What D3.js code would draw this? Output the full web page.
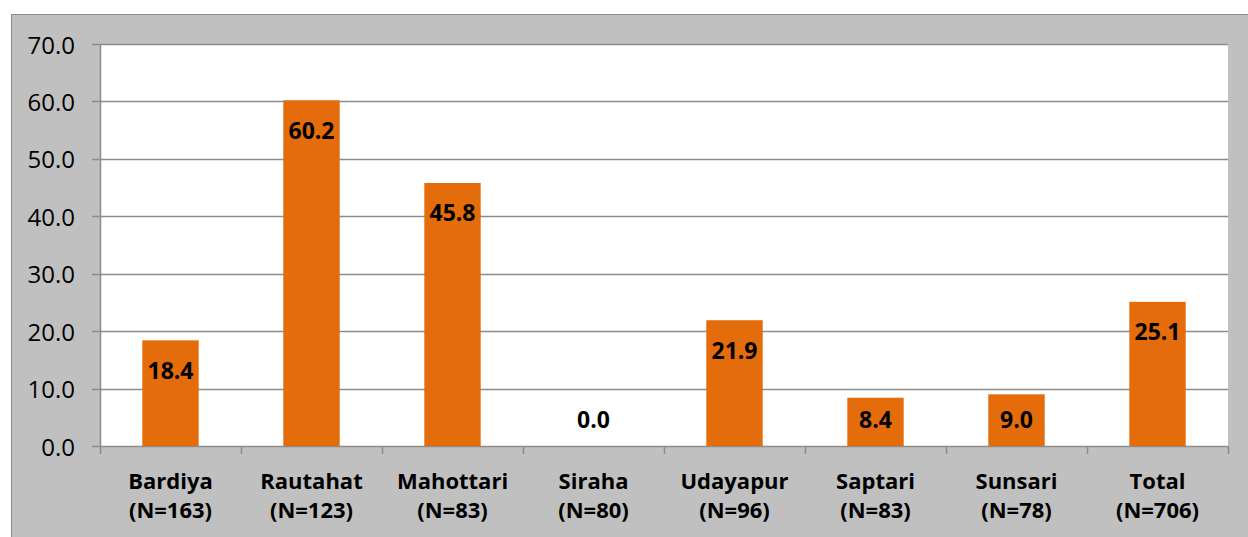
<!DOCTYPE html>
<html>
<head>
<meta charset="utf-8">
<script src="https://cdn.jsdelivr.net/npm/d3@7"></script>
<style>
  html, body { margin: 0; padding: 0; background: #fff; }
  svg text { font-family: "Open Sans", Lato, sans-serif; }
</style>
</head>
<body>
<div id="chart"></div>
<script>
// districts and their sample sizes
var districts = ["Bardiya", "Rautahat", "Mahottari", "Siraha", "Udayapur", "Saptari", "Sunsari", "Total"];
var sampleN = ["(N=163)", "(N=123)", "(N=83)", "(N=80)", "(N=96)", "(N=83)", "(N=78)", "(N=706)"];
var values = [18.4, 60.2, 45.8, 0.0, 21.9, 8.4, 9.0, 25.1];
var yTicks = [0, 10, 20, 30, 40, 50, 60, 70];

var W = 1248, H = 537;
var plot = {left: 100, top: 44, right: 1228, bottom: 446};

var svg = d3.select("#chart").append("svg")
    .attr("width", W)
    .attr("height", H);

// gray chart frame (cut off at right and bottom)
svg.append("rect")
    .attr("x", 11.5).attr("y", 14.5)
    .attr("width", W).attr("height", H)
    .style("fill", "#c0c0c0")
    .style("stroke", "#8c8c8c")
    .style("stroke-width", 1);

svg.append("rect")
    .attr("x", plot.left).attr("y", plot.top)
    .attr("width", plot.right - plot.left)
    .attr("height", plot.bottom - plot.top)
    .style("fill", "#ffffff");

var x = d3.scaleBand()
    .domain(districts)
    .range([plot.left, plot.right])
    .paddingInner(0.6)
    .paddingOuter(0.3);

var y = d3.scaleLinear()
    .domain([0, 70])
    .range([plot.bottom, plot.top]);

// gridlines
svg.append("g")
    .selectAll("line")
    .data(yTicks)
    .enter()
    .append("line")
        .attr("x1", plot.left - 8)
        .attr("x2", plot.right)
        .attr("y1", d => Math.round(y(d)) + 0.5)
        .attr("y2", d => Math.round(y(d)) + 0.5)
        .style("stroke", "#8c8c8c")
        .style("stroke-width", 1.5);

// bars
svg.append("g")
    .selectAll("rect")
    .data(values)
    .enter()
    .append("rect")
        .attr("x", (d, i) => x(districts[i]))
        .attr("y", d => y(d))
        .attr("width", x.bandwidth())
        .attr("height", d => y(0) - y(d))
        .style("fill", "#e46c0a");

// y axis line
svg.append("line")
    .attr("x1", plot.left + 0.5).attr("x2", plot.left + 0.5)
    .attr("y1", plot.top).attr("y2", plot.bottom)
    .style("stroke", "#8c8c8c")
    .style("stroke-width", 1.5);

// x axis ticks at category boundaries
var step = (plot.right - plot.left) / districts.length;
svg.append("g")
    .selectAll("line")
    .data(d3.range(districts.length + 1))
    .enter()
    .append("line")
        .attr("x1", i => Math.round(plot.left + i * step) + 0.5)
        .attr("x2", i => Math.round(plot.left + i * step) + 0.5)
        .attr("y1", plot.bottom)
        .attr("y2", plot.bottom + 8)
        .style("stroke", "#8c8c8c")
        .style("stroke-width", 1.5);

// y tick labels
svg.append("g")
    .selectAll("text")
    .data(yTicks)
    .enter()
    .append("text")
        .attr("x", 75)
        .attr("y", d => y(d) + 1)
        .attr("dy", "0.36em")
        .attr("text-anchor", "end")
        .style("font-size", "24px")
        .style("fill", "#000")
        .text(d => d.toFixed(1));

// category labels
var cat = svg.append("g")
    .selectAll("text")
    .data(districts)
    .enter()
    .append("text")
        .attr("x", d => x(d) + x.bandwidth() / 2)
        .attr("y", 489)
        .attr("text-anchor", "middle")
        .style("font-size", "22px")
        .style("font-weight", "bold")
        .style("fill", "#000");
cat.append("tspan").text(d => d);
cat.append("tspan")
    .attr("x", d => x(d) + x.bandwidth() / 2)
    .attr("dy", 29)
    .text((d, i) => sampleN[i]);

// value labels, inside end of bar
svg.append("g")
    .selectAll("text")
    .data(values)
    .enter()
    .append("text")
        .attr("x", (d, i) => x(districts[i]) + x.bandwidth() / 2)
        .attr("y", d => Math.min(y(d) + 30, 420))
        .attr("dy", "0.36em")
        .attr("text-anchor", "middle")
        .style("font-size", "23px")
        .style("font-weight", "bold")
        .style("fill", "#000")
        .text(d => d.toFixed(1));
</script>
</body>
</html>
